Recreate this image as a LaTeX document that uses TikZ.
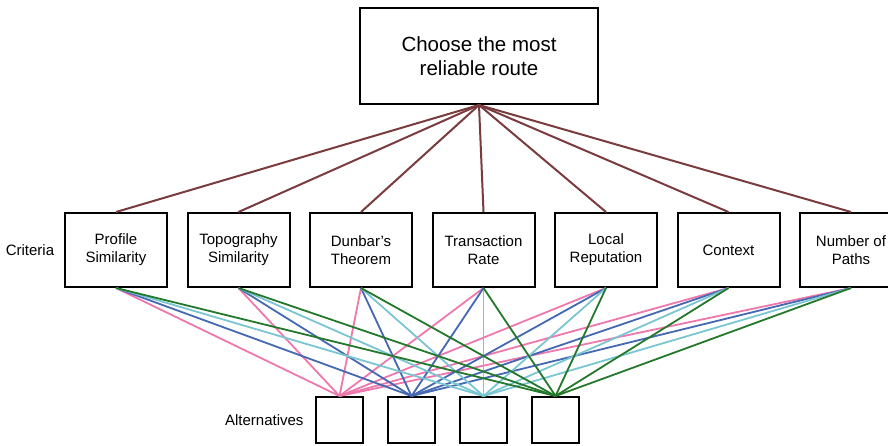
\documentclass[tikz,border=0pt]{standalone}
\usepackage{fontspec}
\setmainfont{Liberation Sans}
\usepackage{tikz}
\usetikzlibrary{positioning}

\definecolor{goalbrown}{HTML}{7A3B3D}
\definecolor{altpink}{HTML}{EE77AC}
\definecolor{altblue}{HTML}{4468B2}
\definecolor{altcyan}{HTML}{79C6D2}
\definecolor{altgreen}{HTML}{24782C}

\begin{document}
\begin{tikzpicture}[
      x=1pt,y=-1pt,
      goalbox/.style={
         rectangle,
         draw=black,
         line width=2pt,
         fill=white,
         minimum width=238pt,
         minimum height=96pt,
         align=center,
         font=\fontsize{20.5}{23.5}\selectfont},
      critbox/.style={
         rectangle,
         draw=black,
         line width=2pt,
         fill=white,
         minimum width=102pt,
         minimum height=74pt,
         align=center,
         font=\fontsize{15}{18}\selectfont},
      altbox/.style={
         rectangle,
         draw=black,
         line width=2pt,
         fill=white,
         minimum width=47pt,
         minimum height=46pt},
      sidelabel/.style={font=\fontsize{15}{18}\selectfont},
      goalline/.style={goalbrown,line width=2pt},
      altline/.style={line width=1.8pt},
      node distance=18.5pt and 18.5pt
      ]
      \useasboundingbox (0,0) rectangle (888,445);

      \node[goalbox] (g) at (479,56) {Choose the most\\reliable route};

      \node[critbox] (c1) at (116,250) {Profile\\Similarity};
      \node[critbox,right=of c1] (c2) {Topography\\Similarity};
      \node[critbox,right=of c2] (c3) {Dunbar's\\Theorem};
      \node[critbox,right=of c3] (c4) {Transaction\\Rate};
      \node[critbox,right=of c4] (c5) {Local\\Reputation};
      \node[critbox,right=of c5] (c6) {Context};
      \node[critbox,right=of c6] (c7) {Number of\\Paths};

      \node[altbox] (a1) at (339.5,420) {};
      \node[altbox,right=23pt of a1] (a2) {};
      \node[altbox,right=23pt of a2] (a3) {};
      \node[altbox,right=23pt of a3] (a4) {};

      \node[sidelabel] (crit) at (30,250) {Criteria};
      \node[sidelabel,left=8pt of a1] (alts) {Alternatives};

    % goal to every criterion
    \foreach \i in {1,...,7}
       \draw [goalline] (g.south) -- (c\i.north);

    \foreach \j/\col in {% alternative/colour
      1/altpink,
      2/altblue,
      3/altcyan,
      4/altgreen}
      \foreach \i in {1,...,7}
         \draw [altline,\col] (c\i.south) -- (a\j.north);
    \end{tikzpicture}
\end{document}
